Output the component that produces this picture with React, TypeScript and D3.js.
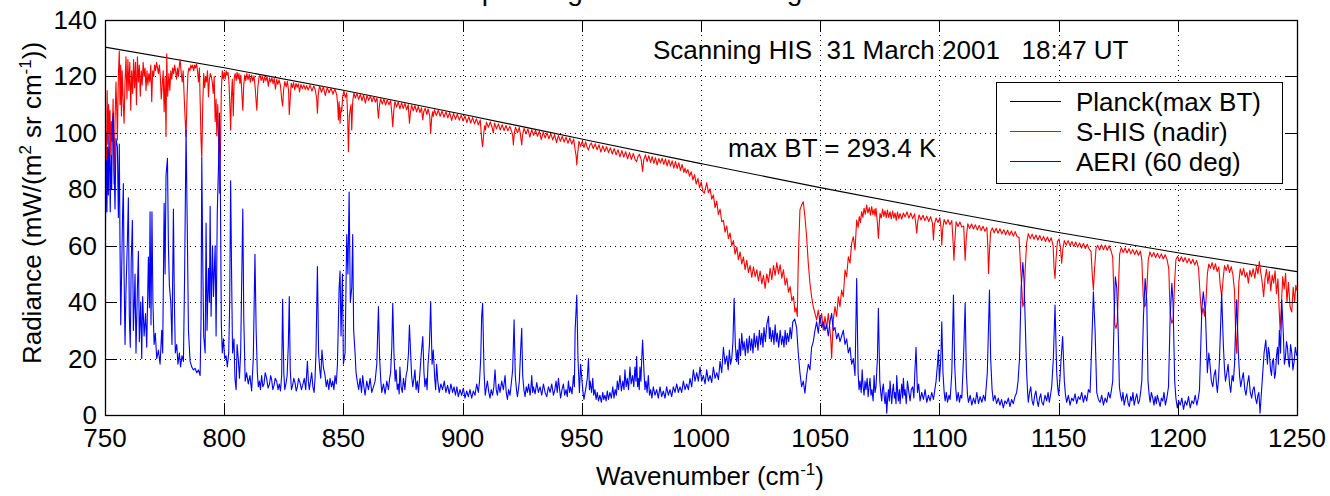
import React from "react";
import * as d3 from "d3";

const xTicks = [750, 800, 850, 900, 950, 1000, 1050, 1100, 1150, 1200, 1250];
const yTicks = [0, 20, 40, 60, 80, 100, 120, 140];

const planck: [number, number][] = [
  [750, 130.4], [800, 123.1], [850, 115.1], [900, 106.6], [950, 97.8], [1000, 89.1],
  [1050, 80.6], [1100, 72.5], [1150, 64.7], [1200, 57.5], [1250, 50.8],
];

const shis: [number, number][] = [
  [750,58],[750.3,100],[750.6,88],[750.9,115],[751.2,96],[751.5,110],[751.8,100],[752.1,108],[752.4,92],[752.7,104],
  [753,97],[753.4,112],[753.8,82],[754.2,104],[754.6,118],[755,106],[755.2,97.5],[755.6,120],[756,129],[756.3,110],
  [756.6,124],[756.9,106],[757.2,122],[757.6,112],[758,103.4],[758.4,118],[758.8,127],[759.2,112],[759.6,126],[760,115],
  [760.4,125],[760.8,108],[761.2,122],[761.6,114],[762,126],[762.4,116],[762.8,125],[763.2,110],[763.6,127],[764,118],
  [764.4,124],[764.8,113],[765.2,122],[765.6,117],[766,125],[766.4,120],[766.8,123],[767.2,115],[767.6,122],[768,117],
  [768.4,121],[768.8,118],[769.2,124],[769.6,111],[770,122],[770.4,120],[770.8,124],[771.2,122],[771.6,125],[772,123],
  [772.4,121],[772.8,124],[773.2,120],[773.6,112],[774,117],[774.4,122],[774.8,107.5],[775.2,120],[775.6,98.7],[775.9,128],
  [776.3,113],[776.8,121],[777.2,115],[777.6,122],[778,119],[778.4,123],[778.8,121],[779.2,124],[779.6,122],[780,119],
  [780.4,123],[780.8,120],[781.2,124],[781.5,126],[782,121],[782.4,118],[782.8,122],[783.2,113],[783.6,105],[784,98.7],
  [784.4,112],[784.8,121],[785.2,123],[785.6,122],[786,124],[786.4,123],[786.8,124],[787.2,122],[787.6,124],[788,123],
  [788.4,124.5],[788.8,122],[789.2,118],[789.6,123],[790,108],[790.3,97],[790.6,91],[791,110],[791.4,121],[791.8,116],
  [792.2,120],[792.6,118],[793,122],[793.4,112.8],[793.8,119],[794.2,121],[794.6,120],[795,118],[795.4,114],[795.8,120],
  [796.2,104],[796.6,112],[796.9,99],[797.3,110],[797.7,95],[798,78.6],[798.4,92],[798.8,115],[799.2,122],[799.6,119],
  [800,121.5],[800.4,119],[800.8,122],[801.2,120.5],[801.6,121.5],[802,118],[802.4,109],[802.7,101],[803,112],[803.4,119],
  [803.8,106],[804.2,119.5],[804.6,121],[805,118.5],[805.4,121.5],[805.8,119],[806.2,121],[806.6,117.5],[807,120.5],[807.4,114],
  [807.8,108],[808.2,117],[808.6,120.5],[809,118.5],[809.5,121],[810,118.8],[810.5,120.8],[811,118],[811.5,120.5],[812,118.4],
  [812.5,120.2],[813,116],[813.4,111],[813.7,108],[814.1,116],[814.6,119.8],[815,120.4],[815.5,118.6],[816,120.2],[816.5,117.8],
  [817,119.9],[817.5,118.4],[818,120],[818.5,116.5],[819,119.5],[819.5,118],[820,119.6],[820.5,117.4],[821,119.3],[821.5,115.5],
  [822,119],[822.5,117.2],[823,118.8],[823.6,116.8],[824.1,112],[824.5,109.5],[824.9,115],[825.4,118.2],[826,116.3],[826.5,118.3],
  [827,115],[827.3,106.5],[827.7,112],[828.1,117.6],[828.6,116],[829.1,117.8],[829.6,115.2],[830.1,117.5],[830.6,116.1],[831.1,117.4],
  [831.6,114.5],[832.2,117.2],[832.8,115.7],[833.4,117],[834,115.4],[834.6,116.8],
  [835.2,115.2],[836,116.9],[836.8,114.8],[837.6,116.6],[838.3,114.9],[838.8,112],[839.1,107],[839.5,114],[840,116.7],[840.8,114.4],
  [841.6,116.4],[842.4,113.2],[843.2,116.1],[844,114.2],[844.8,115.9],[845.6,113.7],[846.4,115.6],[847.2,113.5],[847.6,110],[847.9,104.6],
  [848.2,111],[848.6,103.4],[849,109],[849.3,107.5],[849.7,113],[850.2,114.8],[850.8,112.5],[851.4,114.2],[851.8,105],[852.1,93.3],
  [852.5,106],[852.8,108],[853.2,110],[853.5,101],[853.9,111],[854.4,114.2],[855,112.3],[855.7,114],[856.4,111.8],[857.1,113.7],
  [857.8,111.4],[858.5,113.5],[859.2,110.5],[859.9,113.3],[860.6,111.5],[861.3,113.1],[862,111],[862.7,112.9],[863.4,110.9],[864.1,112.5],
  [864.4,108],[864.7,105.2],[865.1,109.5],[865.6,112.2],[866.3,110.2],[867,112],[867.7,109.8],[868.4,111.8],[869.1,109.9],[869.8,111.5],
  [870.3,107],[870.7,102.2],[871.1,107.5],[871.6,111.1],[872.3,109.1],[873,111],[873.7,108.5],[874.4,110.7],[875.1,108.6],[875.8,110.5],
  [876.5,108.2],[877.2,110],[877.5,106],[877.7,103.4],[878.1,107],[878.6,109.9],[879.3,107.8],[880,109.7],[880.7,107.4],[881.4,109.4],
  [882.1,107.2],[882.8,108.9],[883.1,106],[883.3,104.6],[883.7,107.5],[884.3,108.7],[885,106.5],[885.5,108.5],[886.2,106],[886.6,99.8],
  [887,105],[887.4,107.5],[887.7,105.8],[888.2,108.2],[889,106.1],[889.8,108],[890.6,105.9],[891.4,107.8],[892.2,105.5],[893,107.5],
  [893.8,105.3],[894.6,107.2],[895.4,104.4],[896.2,106.9],[897,104.8],[897.8,106.6],[898.6,104.5],[899.4,106.3],[900.2,104.2],[901,106],
  [901.8,103.6],[902.6,105.7],[903.4,103.5],[904.2,105.4],[905,103.2],[905.8,105],[906.6,102.8],[907.4,104.6],[907.8,100],[908.1,97],
  [908.4,95.1],[908.8,99],[909.2,102.5],[909.6,101],[910,103.8],[910.8,102],[911.6,103.9],[912.4,101.8],[912.9,100],[913.4,103.5],
  [914.2,101.4],[915,103.2],[915.8,101],[916.6,102.9],[917.4,100.8],
  [918.2,102.6],[919,100.7],[919.8,102.3],[920.6,100.4],[921,99],[921.3,95.7],[921.7,100],[922.2,102],[923,100],[923.8,101.9],
  [924.3,99],[924.8,95.7],[925.2,99.5],[925.8,101.6],[926.6,99.6],[927.4,101.4],[928.2,98.5],[929,101.1],[929.8,99.1],[930.6,100.9],
  [931.4,98.8],[932.2,100.6],[933,97.6],[933.8,100.3],[934.6,98.2],[935.4,100],[936.2,97.9],[937,99.7],[937.8,97.5],[938.6,99.4],
  [939.4,96.5],[940.2,99.1],[941,97],[941.8,98.8],[942.6,96.7],[943.4,98.5],[944.2,96.3],[945,98.2],[945.8,96],[946.6,97.8],
  [947.2,94],[947.6,92],[947.9,88.6],[948.3,93],[948.8,97],[949.5,95.2],[950.2,97.1],[950.9,94.8],[951.6,96.8],[952.2,95],
  [952.8,93.9],[953.3,95.5],[954,96.4],[954.8,94.4],[955.6,96.1],[956.4,94],[957.2,95.8],[958,93.2],[958.8,95.4],[959.6,93.4],
  [960.4,95.1],[961.2,93],[962,94.7],[962.8,92.5],[963.6,94.4],[964.4,92.2],[965.2,94],[966,91.5],[966.8,93.7],[967.6,91.4],
  [968.4,93.3],[969.2,90.8],[970,93],[970.8,90.6],[971.6,92.7],[972.4,90.4],[973,89.8],[973.5,91.5],[974.2,92.4],[974.9,90.5],
  [975.5,86.3],[976,90.5],[976.7,92.2],[977.4,89.8],[978.1,91.9],[978.8,89.5],[979.5,91.6],[980.2,89.2],[980.9,91.2],[981.6,88.6],
  [982.3,90.9],[983,89.3],[983.7,91],[984.4,88.8],[985.1,90.8],[985.8,88.3],[986.5,90.4],[987.2,88.2],[987.9,90.1],[988.6,87.5],
  [989.3,89.8],[990,87.4],[990.7,89.4],[991.4,86.7],[992.1,88.8],[992.8,86],[993.3,87.5],[993.8,85.8],[994.5,87],[995.2,84.6],
  [995.9,86.2],[996.6,83.3],[997.3,85.2],[998,81.8],[998.7,83.9],[999.4,80.6],[1000.1,82.6],[1000.8,79.2],[1001.4,78.6],
  [1002.4,82.4],[1003.1,78.8],[1003.8,80.2],[1004.5,76.5],[1005.2,78],[1005.9,73.5],[1006.6,75.8],[1007.3,71],[1008,73],[1008.7,68.5],
  [1009.4,69],[1010.1,64.8],[1010.8,67],[1011.5,62.5],[1012.2,64.5],[1012.9,60],[1013.6,61.8],[1014.3,57],[1015,59.5],[1015.7,55],
  [1016.4,57.8],[1017.1,53.5],[1017.8,56],[1018.5,51.5],[1019.2,54.8],[1019.9,50.5],[1020.6,53],[1021.3,48.8],[1022,52.5],[1022.7,49],
  [1023.4,51.5],[1024.1,47.5],[1024.8,51],[1025.5,46.5],[1026.2,49.5],[1026.9,44.9],[1027.6,50],[1028.3,47],[1029,52],[1029.7,48],
  [1030.4,53],[1031.1,49.5],[1031.8,54],[1032.5,50],[1033.2,53.2],[1033.9,48.5],[1034.6,51.5],[1035.3,46],[1036,48.5],[1036.7,43.5],
  [1037.4,45.5],[1038.1,40.5],[1038.8,42],[1039.4,36.5],[1039.9,38],[1040.4,34.9],[1040.7,50],[1041,60],[1041.5,72.7],[1042.2,74.4],
  [1042.9,75.6],[1043.6,70.3],[1044.3,63.2],[1045,53.8],[1045.7,46.7],[1046.4,41.9],[1047.1,38.4],[1047.8,36],[1048.5,33.7],[1049.2,37.2],
  [1049.9,32.5],[1050.6,36],[1051.3,30.1],[1052,34.9],[1052.7,30.7],[1053.4,36],[1054.1,30.1],[1054.5,26],[1054.8,20.1],[1055.2,28],
  [1055.5,33.7],[1056.2,38.4],[1056.9,34.9],[1057.6,41.9],[1058.3,38.4],[1059,44.3],[1059.7,41.9],[1060.4,51.4],[1061.1,49],[1061.8,56.1],
  [1062.5,53.8],[1063.2,60.9],[1063.9,63.2],[1064.6,58.5],[1065.3,69.1],[1065.9,66.5],[1066.4,70.3],[1066.9,68.2],[1067.4,72.1],[1067.9,70],
  [1068.4,73.3],[1068.9,71.2],[1069.5,74.4],[1070,71.6],[1070.6,73.5],[1071.1,70.8],[1071.6,73.9],[1072.1,71],[1072.6,73],[1073,70.5],
  [1073.4,73.3],[1074,68],[1074.4,62.6],[1074.8,68],[1075.1,71.5],[1075.6,69.8],[1076.2,73],[1076.7,70.4],[1077.2,72.4],[1077.7,69.9],
  [1078.2,72.6],[1078.7,70],[1079.3,72],[1079.8,69.5],[1080.4,72.3],[1080.9,69.8],[1081.4,71.6],[1081.9,69],[1082.4,71.9],[1083,69.6],
  [1083.5,71.4],[1084.2,69.4],[1084.9,71.6],
  [1085.6,70.2],[1086.4,72],[1087.2,69.8],[1088,71.6],[1088.8,69.6],[1089.6,71.3],[1090.2,67],[1090.5,64.4],[1090.9,68.5],[1091.5,70.9],
  [1092.3,69.1],[1093.1,70.8],[1093.9,68.9],[1094.7,70.5],[1095.5,68.6],[1096.3,70.3],[1097.1,68],[1097.5,62],[1097.9,67.5],[1098.6,69.8],
  [1099.4,68.2],[1100.2,69.9],[1100.7,66],[1101,60.3],[1101.4,66],[1102,69.3],[1102.8,67.6],[1103.6,69.2],[1104.4,67.4],[1105.2,68.9],
  [1105.7,62],[1106.1,54.9],[1106.5,62],[1107,68.5],[1107.8,66.8],[1108.6,68.4],[1109.4,66.6],[1110.2,67],[1110.8,54.9],[1111.3,63],
  [1111.9,67.8],[1112.7,66.1],[1113.5,67.7],[1114.3,65.9],[1115.1,67.4],[1115.9,65.6],[1116.7,67.2],[1117.5,65.4],[1118.3,66.9],[1119.1,65.1],
  [1119.9,66.5],[1120.3,60],[1120.6,50.2],[1121,58],[1121.5,65],[1122.2,66.3],[1123,64.6],[1123.8,66.2],[1124.6,64.4],[1125.4,66],
  [1126.2,64.2],[1127,65.7],[1127.8,63.9],[1128.6,65.5],[1129.4,63.7],[1130.2,65.2],[1131,63.4],[1131.8,65],[1132.6,63.2],[1133.4,63],
  [1133.9,55],[1134.5,45.5],[1135,38.4],[1135.5,40],[1136,52],[1136.6,61],[1137.3,64.3],[1138.1,62.5],[1138.9,64.1],[1139.7,62.3],
  [1140.5,63.8],[1141.3,62],[1142.1,63.6],[1142.9,61.8],[1143.7,63.3],[1144.5,61.5],[1145.3,63.1],[1146.1,61.3],[1146.9,62.8],[1147.7,60],
  [1148.1,52],[1148.5,48.4],[1148.9,55],[1149.5,61.5],[1150.2,62.4],[1150.8,59],[1151.3,53.8],[1151.8,59],[1152.4,61.8],[1153.2,60.2],
  [1154,61.8],[1154.8,60],[1155.6,61.5],[1156.4,59.7],[1157.2,61.3],[1158,59.5],[1158.8,61],[1159.6,59.2],[1160.4,60.8],[1161.2,59],
  [1162,60.5],[1162.8,58.8],[1163.6,58],[1164.1,50],[1164.6,44.3],[1165.1,52],[1165.7,59],[1166.4,60.1],[1167.2,58.5],
  [1168,60.3],[1168.8,58.6],[1169.6,60.2],[1170.4,58.4],[1171.2,60],[1172,58.2],[1172.7,56],[1173.2,42],[1173.6,32],[1174.1,30.7],
  [1174.6,33],[1175.1,45],[1175.6,57],[1176.3,59.3],[1177.1,57.6],[1177.9,59.2],[1178.7,57.4],[1179.5,58.9],[1180.3,57.1],[1181.1,58.7],
  [1181.9,56.9],[1182.7,58.4],[1183.5,56.6],[1184.3,58.1],[1184.9,55],[1185.5,42],[1186,38.4],[1186.5,39],[1187,44],[1187.6,55],
  [1188.3,57.8],[1189.1,56.1],[1189.9,57.6],[1190.7,55.8],[1191.5,57.3],[1192.3,55.6],[1193.1,57.1],[1193.9,55.3],[1194.7,56.8],[1195.5,55],
  [1196.2,52],[1196.8,36],[1197.5,32.5],[1198.1,34],[1198.6,46],[1199.2,55],[1199.9,56.2],[1200.7,54.5],[1201.5,56.1],[1202.3,54.3],
  [1203.1,55.8],[1203.9,53.9],[1204.7,55.5],[1205.5,53.6],[1206.3,55.2],[1207.1,53.2],[1207.9,54.8],[1208.7,52],[1209.4,42],[1210,35.5],
  [1210.6,38],[1211.2,35],[1211.8,40],[1212.4,50],[1213,53.5],[1213.7,52],[1214.4,54],[1215.1,51.5],[1215.8,53.6],[1216.5,50.8],
  [1217.2,52.5],[1217.8,46],[1218.4,42],[1219,48],[1219.6,53],[1220.3,51.2],[1221,53.3],[1221.7,50.5],[1222.4,52.6],[1223.1,49.8],
  [1223.8,44],[1224.3,28],[1224.7,21.9],[1225.1,32],[1225.6,47],[1226.2,51.8],[1226.9,49.5],[1227.6,52],[1228.3,48.8],[1229,50.5],
  [1229.6,46.7],[1230.2,51.3],[1230.9,49],[1231.6,51.8],[1232.3,48.5],[1233,52.8],[1233.6,50],[1234.2,54.4],[1234.8,50.4],[1235.4,47],
  [1236,41.9],[1236.6,48.5],[1237.2,51.6],[1237.8,46.5],[1238.4,50.8],[1239,44],[1239.6,49.6],[1240.2,46.7],[1240.8,51.1],[1241.4,43],
  [1242,48.3],[1242.6,36],[1242.9,30.1],[1243.4,38],[1244,49],[1244.6,44.6],[1245.2,50.2],[1245.8,40],[1246.4,47],[1247.1,38.3],
  [1247.8,36.5],[1248.4,45.3],[1249,40],[1249.5,46],[1250,44],
];

const aeri: [number, number][] = [
  [750,52],[750.3,75],[750.6,90],[750.8,72],[751.1,95],[751.4,78],[751.7,100],[752,86],[752.2,72],[752.5,92],
  [752.8,80],[753.1,103],[753.5,107],[753.8,88],[754.2,73],[754.6,98],[755.2,95],[755.6,70],[756,96],[756.3,60],
  [756.6,32],[757,52],[757.4,72],[757.7,82],[758,50],[758.4,25],[758.8,44],[759.4,62],[759.8,77],[760.2,35],
  [760.6,24],[761,55],[761.5,69],[761.9,30],[762.3,40],[762.6,50],[763,22],[763.6,45],[764,58],[764.4,26],
  [765,40],[765.4,20],[765.8,42],[766.4,28],[767,36],[767.5,24],[768.2,56],[768.6,38],[768.9,72],[769.3,32],
  [769.7,72],[770.1,40],[770.6,25],[771.1,29],[771.7,20],[772.4,23],[773.1,18],[773.8,30],[774.2,22],[774.8,75],
  [775.2,50],[775.6,85],[776.2,91],[776.6,60],[777,46],[777.6,40],[778.1,25],[778.7,73],[779.1,40],[779.5,22],
  [780.1,25],[780.6,18],[781.2,22],[781.7,17],[782.3,21],[782.9,19],[783.4,50],[784,101],[784.6,60],[785,30],
  [785.7,19],[786.4,17],[787.1,16],[787.8,16.5],[788.5,15],[789.2,16],[789.9,14],[790.3,35],[790.6,91],[791,55],
  [791.4,28],[792,22],[792.4,68],[792.8,30],[793.4,52],[793.8,40],[794.1,74],[794.5,35],[795.1,60],[795.5,42],
  [796.2,60],[796.6,28],[797.1,72],[797.6,88],[798,107],[798.4,80],[798.8,32],[799.2,22],[799.7,27],[800.2,20],
  [800.8,21],[801.3,17],[801.9,22],[802.3,40],[802.7,83],[803.1,50],[803.5,22],[804.1,27],[804.5,13],[805,9],
  [805.4,25],[805.9,20],[806.4,13],[806.9,22],[807.3,45],[807.8,73],[808.2,35],[808.8,12],[809.4,15],[810.1,11],
  [810.8,14],[811.5,8.5],[812.2,20],[812.9,57],[813.4,30],[813.9,15],[814.3,10],[814.8,12],[815.2,9],[815.7,14],
  [816.2,10],[816.7,11],[817.2,15],[817.8,13],[818.4,9.5],[819,11],[819.5,14],[819.9,12.5],[820.4,9],[820.9,10.5],
  [821.4,13],[822,12],[822.6,9],[823.1,11],[823.6,8.5],[824.1,14],[824.5,41],[825,15],[825.4,9],[825.9,11],
  [826.4,14],[826.9,25],[827.3,42],[827.7,16],[828.2,9],[828.7,10.5],[829.2,13],[829.7,11.5],[830.2,8.5],[830.7,10],
  [831.2,13],[831.8,11.5],[832.4,9],[832.9,10.5],[833.6,13],[834.2,9],[834.9,19],[835.3,12],[835.7,9],[836.2,12],
  [836.7,15],[837.2,10],[837.7,8],[838.1,13],[838.5,22],[839.1,52.6],[839.6,22],[840.1,16],[840.5,13],[841,23],
  [841.6,17],[842.3,14],[842.8,10],[843.3,12.5],[843.9,9],[844.4,13],[845,10],[845.5,12],[846,9],[846.5,14],
  [847,11],[847.5,18],[848.2,45],[848.6,51],[849,28],[849.6,50],[850,18],[850.7,22],[851.4,64],[851.9,50],
  [852.4,79],[852.9,40],[853.5,45],[853.9,64],[854.3,30],[854.9,22],[855.3,15],
  [855.8,12],[856.4,9],[857,13],[857.6,8],[858.1,14],[858.6,10],[859.1,7],[859.8,12],[860.5,9],[861.2,13],
  [861.9,8],[862.6,10],[863.3,12],[864,18],[864.7,38.4],[865.2,20],[865.7,12],[866.1,8],[866.8,11],[867.5,7.5],
  [868.2,12],[868.9,9],[869.4,13],[869.8,15],[870.3,24],[870.7,39.6],[871.2,22],[871.7,12],[872.1,16],[872.6,9],
  [873,11],[873.4,7.5],[873.7,17],[874.2,10],[874.7,8],[875.2,13],[875.8,9],[876.3,14],[876.8,16],[877.3,22],
  [877.7,31.9],[878.2,22],[878.6,14],[879.1,10],[879.6,13],[880,16],[880.5,9],[881,12],[881.5,8],[882.1,15],
  [882.7,22],[883.3,27.8],[883.8,15],[884.2,10],[884.7,13],[885.1,9],[885.5,18],[886.1,25],[886.6,40.2],[887.2,18],
  [887.7,23],[888.3,13],[888.7,9],[889.1,18],[889.6,12],[890.2,8],[890.9,11],[891.6,9],[892.3,12],[893,8],
  [893.7,10.5],[894.4,7.5],[895.1,11],[895.8,8],[896.4,10],[897,7],[897.6,10],[898.2,6.5],[898.9,9],[899.6,7],
  [900.3,9.5],[901,6],[901.7,8.5],[902.4,6.5],[903.1,9],[903.8,6],[904.5,8.5],[905.2,7],[905.9,11],[906.6,8],
  [907.1,12],[907.6,20],[908,35],[908.4,39.6],[909,15],[909.5,7],[910,10],[910.4,12],[911,8],[911.5,6],
  [912,9],[912.6,7],[913.1,10],[913.6,16],[914.1,9],[914.6,7],[915.1,11],[915.7,8],[916.4,12],[917.1,9],
  [917.8,14],[918.3,8],[918.8,5.5],[919.3,9],[919.9,7],[920.4,11],[921,16],[921.6,33.7],[922.1,14],[922.6,9],
  [923,6.5],[923.4,9],[923.8,12],[924.4,24],[924.8,30.7],[925.2,14],[925.7,9],[926.2,6.5],[926.7,10],[927.2,8],
  [927.7,11],[928.3,7],[928.7,10],[929,14],[929.4,8],[929.7,10],[930.4,7.5],[931.1,11.5],[931.8,8],[932.5,10],
  [933.2,7],[933.9,11],[934.6,8],[935.3,6.5],[936,10],[936.7,8],[937.4,11],[938.1,7],[938.7,9],[939.2,12],
  [939.7,8],[940.2,13],[940.7,9],[941.1,6],[941.7,9],[942.3,11],[942.8,7],[943.4,9],[943.9,6.5],[944.4,12],
  [944.9,8],[945.3,10],[945.9,7.5],[946.5,14],[946.9,10],[947.2,30],[947.9,42.5],[948.4,20],[949,8],[949.5,18],
  [950.1,12],[950.5,8],[950.9,5.5],[951.4,8],[951.8,10],[952.3,13],[952.8,20],[953.2,9],[953.5,12],[954.1,8],
  [954.6,13],[955,7],[955.5,9],[956,5.5],[956.5,8],[957,5],[957.6,7],[958.2,4.5],[958.8,8],[959.2,5.5],
  [959.7,7],[960.2,5],[960.7,8.5],[961.2,5.5],[961.8,8],[962.4,6],[963,10],[963.5,6],[964,9],[964.5,7],
  [964.9,12],[965.4,9],[966,14],[966.6,8.5],[967.2,12],[967.7,9],[968.1,16],[968.6,10],[969.1,13],[969.6,9],
  [970.2,17],[970.7,11],[971.3,14],[971.8,10],[972.3,17],[972.7,12],[973,20.7],[973.4,10],[973.7,13],[974.1,9],
  [974.4,17],[974.8,12],[975.1,19],[975.5,26.6],[976.1,15],[976.5,9],[976.9,12],[977.4,8],[977.9,14],[978.4,7],
  [978.9,9],[979.4,6],[980,10],[980.7,7],[981.4,9],[982.1,6],[982.8,10],[983.5,6.5],[984.2,8.5],[984.9,6],
  [985.6,10],[986.3,7],[987,9],[987.7,6.5],[988.4,10],[989.1,8],[989.8,11],[990.5,8],[991.2,10],[991.9,8],
  [992.6,12],[993.3,9],[994,11],[994.7,9],[995.4,13],[996.1,10],[996.8,16],[997.5,12],[998.2,15],[998.9,12],
  [999.6,17],[1000.3,12],[1001,14],[1001.7,11],[1002.4,16],[1003.1,12],[1003.8,14],[1004.5,11.5],[1005.2,17],[1005.9,13],
  [1006.6,15],[1007.3,12.5],[1008,19],[1008.7,15],[1009.4,24],[1010.1,18],[1010.8,21],[1011.4,16],[1011.9,23],[1012.4,18],
  [1012.9,20],[1013.4,26],[1013.9,41.4],[1014.4,25],[1014.9,19],[1015.3,23],[1015.7,18],[1016.1,27],[1016.6,21],[1017.1,29],
  [1017.6,23],[1018.1,26],[1018.6,21],[1019.2,27],[1019.7,22],[1020.3,28],[1020.8,23],[1021.3,27],[1021.8,22],[1022.3,29],
  [1022.8,24],[1023.4,28],[1023.9,23],[1024.5,30],[1025,25],[1025.5,29],[1026,24],[1026.4,31],[1027,26],[1027.6,32],
  [1028.3,35],[1028.7,27],[1029,31],[1029.5,26],[1030.1,30],[1030.6,25],[1031.1,32],[1031.6,26],[1032,29],[1032.6,24],
  [1033.2,30],[1033.8,25],[1034.3,28],[1034.8,24],[1035.3,30],[1035.8,25],[1036.2,29],[1036.8,26],[1037.4,31],[1037.9,27],
  [1038.5,33],[1039.3,34],[1040.1,31],[1040.8,22],[1041.5,15],[1042.2,10],[1042.9,12],[1043.6,7.7],[1044.3,14],[1045,18],
  [1045.7,16],[1046.4,24],[1047.1,26],[1047.8,30],[1048.5,33],[1049.2,29],[1049.9,35],[1050.6,31],[1051.3,33],[1052,30],
  [1052.7,32],[1053.4,28],[1054.1,33],[1054.8,36],[1055.5,30],[1056.2,31],[1056.9,27],[1057.6,29],[1058.3,26],[1059,28],
  [1059.7,30],[1060.4,25],[1061.1,27],[1061.8,22],[1062.5,24],[1063.2,18],[1063.9,20],[1064.6,14],[1065.3,48.4],[1065.9,15],
  [1066.3,9],[1066.7,12],[1067.2,8],[1067.6,16],[1068,10],[1068.4,7],[1068.8,12],[1069.2,9],[1069.7,13],[1070.1,6.5],
  [1070.5,10],[1070.9,13],[1071.3,7],[1071.7,9],[1072.2,5],[1072.6,14],[1073,8],[1073.4,10],[1074,20],[1074.4,37.8],
  [1075,12],[1075.4,8],[1075.8,5],[1076.1,9],[1076.5,11],[1076.9,6],[1077.2,4],[1077.6,8],[1077.9,0.6],[1078.3,6],
  [1078.6,9],[1079,5],[1079.3,12],[1079.7,7],[1080,4],[1080.4,9],[1080.7,11],[1081.1,6],[1081.4,8],[1081.8,4],
  [1082.1,14],[1082.5,8],[1082.8,5],[1083.2,9],[1083.5,4],[1083.9,8],[1084.2,11],[1084.6,6],[1084.9,13],[1085.3,7],
  [1085.6,9],[1086.1,4],[1086.6,12],[1087.2,8],[1087.7,5],[1088.2,9],[1088.8,10],[1089.3,6],[1089.7,15],[1090.2,24],
  [1090.8,8],[1091.3,11],[1091.9,5],[1092.6,8],[1093.3,5.5],[1094,9],[1094.7,4.5],[1095.4,7],[1096.1,5],[1096.8,8],
  [1097.5,5.5],[1098.1,9],[1098.6,12],[1099.2,18],[1099.6,23],[1100,12],[1100.6,20],[1101,33],[1101.5,15],[1102,8],
  [1102.4,5],[1102.9,8],[1103.4,4.5],[1104,7],[1104.5,5.5],[1105.2,15],[1105.9,42.5],[1106.4,18],[1106.9,9],[1107.3,5],
  [1107.9,8],[1108.4,4.5],[1108.9,7],[1109.4,6],[1110.1,20],[1110.8,39.6],[1111.3,15],[1111.8,7],[1112.2,4.5],[1112.9,7],
  [1113.6,3.5],[1114.3,6],[1115,4],[1115.7,8],[1116.4,4],[1117.1,6.5],[1117.8,4.5],[1118.5,7],[1119.2,5],[1120.1,15],
  [1121,44.3],[1121.5,20],[1122.1,9],[1122.6,5],[1123.3,7],[1124,4],[1124.7,6],[1125.4,3.5],[1126.1,5.5],[1126.8,2.5],
  [1127.5,5],[1128.2,4],[1128.9,6],[1129.6,3],[1130.3,5.5],[1131,4],[1131.7,6.5],[1132.4,8],[1133,12],[1133.6,20],
  [1134.3,45],[1135,54],[1135.5,48],[1136.1,30],[1136.6,15],[1137,8],[1137.3,4.5],[1137.8,8],[1138.3,10],[1138.9,5],
  [1139.4,3.5],[1140,7],[1140.5,8.5],[1141,5],[1141.5,3],[1142,6],[1142.5,7.5],[1143,4.5],[1143.6,3.5],[1144.3,7],
  [1145,5],[1145.6,8],[1146.1,4.5],[1146.6,7],[1147.1,10],[1147.8,20],[1148.5,39],[1149.2,15],[1149.6,10],[1150,7],
  [1150.5,12],[1150.9,18],[1151.7,27.8],[1152.4,12],[1152.9,7],[1153.4,4.5],[1154.1,7],[1154.8,3.5],[1155.5,6],[1156.2,5],
  [1156.9,7.5],[1157.6,4],[1158.3,6.5],[1159,5.5],[1159.7,8],[1160.4,4.5],[1161.1,7],[1161.8,5],[1162.5,9],[1163.2,8],
  [1163.9,25],[1164.6,43.7],[1165.3,30],[1166,8],[1166.7,5.5],[1167.4,4.5],[1168.1,7],[1168.8,3.5],[1169.5,6],[1170.2,4.5],
  [1170.9,8],[1171.6,6],[1172.2,9],[1172.7,12],[1173.3,35],[1173.8,49],[1174.4,45],[1175,30],[1175.5,10],[1176,7],
  [1176.5,5],[1177,8],[1177.5,3.5],[1178.1,6],[1178.6,7.5],[1179.2,4],[1179.7,3],[1180.2,6.5],[1180.7,5],[1181.2,8],
  [1181.7,3.5],[1182.3,6],[1182.8,7.5],[1183.4,4],[1183.9,5],[1184.4,8],[1184.9,12],[1185.6,35],[1186.3,48.4],[1187,40],
  [1187.5,12],[1188,7],[1188.4,4.5],[1188.9,8],[1189.5,6],[1190,3.5],[1190.5,6.5],[1191,4],[1191.4,7],[1192,5],
  [1192.6,3],[1193.1,6],[1193.7,5],[1194.2,8],[1194.8,3.5],[1195.4,6],[1196.1,10],[1196.8,35],[1197.5,46.7],[1198,40],
  [1198.7,12],[1199.2,6],[1199.8,2.5],[1200.4,5],[1201,3.5],[1201.7,6],[1202.4,2],[1203.1,5],[1203.8,3.5],[1204.5,6.5],
  [1205.2,2.5],[1205.9,5],[1206.6,4],[1207.3,7],[1208,3.5],[1208.6,6],[1209.1,9],[1210.1,38],[1210.7,43.7],[1211.6,36],
  [1212.4,15],[1213,22],[1213.5,18],[1214.1,12],[1214.7,10],[1215.2,14],[1215.8,16],[1216.2,11],[1216.6,8],[1217.1,13],
  [1217.5,20],[1218.4,43],[1219.1,25],[1219.6,16],[1220,12],[1220.6,15],[1221.1,18],[1221.7,11],[1222.2,8],[1222.8,14],
  [1223.3,12],[1223.8,18],[1224.2,30],[1224.7,40.8],[1225.4,22],[1225.9,14],[1226.4,10],[1227,13],[1227.5,15],[1228.1,9],
  [1228.6,7],[1229.2,11],[1229.8,14],[1230.4,8],[1231,6],[1231.5,9],[1232,10],[1232.6,6],[1233.1,4],[1233.6,7],
  [1234,8],[1234.5,0.6],[1235,7],[1235.4,12],[1235.8,17],[1236.2,22],[1236.9,26.6],[1237.6,18],[1238,24],[1238.4,22],
  [1238.9,16],[1239.3,14],[1239.7,19],[1240.1,20],[1240.6,13],[1241,15],[1241.4,21],[1241.8,24],[1242.2,18],[1242.6,30],
  [1243.1,22],[1243.6,40.8],[1244.3,28],[1244.7,18],[1245.1,20],[1245.6,26],[1246,24],[1246.4,19],[1246.8,17],[1247.3,25],
  [1247.8,22],[1248.3,16],[1248.8,19],[1249.3,24],[1249.9,21],
];

const W = 1330;
const H = 496;
const left = 105, right = 1297, top = 20, bottom = 415;
const FONT = "'Liberation Sans', Arial, Helvetica, sans-serif";

export default function App() {
  const x = d3.scaleLinear().domain([750, 1250]).range([left, right]);
  const y = d3.scaleLinear().domain([0, 140]).range([bottom, top]);
  const line = d3.line<[number, number]>().x((d) => x(d[0])).y((d) => y(d[1]));
  const smooth = d3.line<[number, number]>().x((d) => x(d[0])).y((d) => y(d[1])).curve(d3.curveMonotoneX);
  const tick = 12;

  return (
    <svg width={W} height={H} style={{ position: "absolute", left: 0, top: 0, background: "#fff" }} fontFamily={FONT}>
      <rect x={0} y={0} width={W} height={H} fill="#fff" />
      <defs>
        <clipPath id="plot">
          <rect x={left} y={top} width={right - left} height={bottom - top} />
        </clipPath>
      </defs>
      {/* title, cut off by the top edge of the picture */}
      <text x={695} y={0} textAnchor="middle" fontSize={28} fill="#000">Upwelling and Downwelling Radiance</text>

      {/* grid */}
      <g stroke="#000" strokeWidth={1} strokeDasharray="1,4" shapeRendering="crispEdges">
        {xTicks.slice(1, -1).map((t) => (
          <line key={"gx" + t} x1={Math.round(x(t)) + 0.5} x2={Math.round(x(t)) + 0.5} y1={top} y2={bottom} />
        ))}
        {yTicks.slice(1, -1).map((t) => (
          <line key={"gy" + t} x1={left} x2={right} y1={Math.round(y(t)) + 0.5} y2={Math.round(y(t)) + 0.5} />
        ))}
      </g>

      {/* data */}
      <g clipPath="url(#plot)" fill="none" strokeWidth={1.1} strokeLinejoin="round">
        <path d={smooth(planck) || ""} stroke="#000" />
        <path d={line(shis) || ""} stroke="#ff0000" />
        <path d={line(aeri) || ""} stroke="#0000ff" />
      </g>

      {/* ticks */}
      <g stroke="#000" strokeWidth={1} shapeRendering="crispEdges">
        {xTicks.map((t) => (
          <g key={"tx" + t}>
            <line x1={Math.round(x(t)) + 0.5} x2={Math.round(x(t)) + 0.5} y1={bottom} y2={bottom - tick} />
            <line x1={Math.round(x(t)) + 0.5} x2={Math.round(x(t)) + 0.5} y1={top} y2={top + tick} />
          </g>
        ))}
        {yTicks.map((t) => (
          <g key={"ty" + t}>
            <line x1={left} x2={left + tick} y1={Math.round(y(t)) + 0.5} y2={Math.round(y(t)) + 0.5} />
            <line x1={right} x2={right - tick} y1={Math.round(y(t)) + 0.5} y2={Math.round(y(t)) + 0.5} />
          </g>
        ))}
      </g>
      <rect x={left + 0.5} y={top + 0.5} width={right - left} height={bottom - top} fill="none" stroke="#000" strokeWidth={1.3} />

      {/* tick labels */}
      <g fontSize={26} fill="#000">
        {xTicks.map((t) => (
          <text key={"lx" + t} x={x(t)} y={447} textAnchor="middle">{t}</text>
        ))}
        {yTicks.map((t) => (
          <text key={"ly" + t} x={97} y={y(t) + 9} textAnchor="end">{t}</text>
        ))}
      </g>

      {/* axis labels */}
      <text x={710} y={485} textAnchor="middle" fontSize={26} fill="#000">
        Wavenumber (cm<tspan dy={-10} fontSize={17}>-1</tspan><tspan dy={10}>)</tspan>
      </text>
      <text transform="translate(41,203) rotate(-90)" textAnchor="middle" fontSize={26} fill="#000">
        Radiance (mW/(m<tspan dy={-10} fontSize={17}>2</tspan><tspan dy={10}> sr cm</tspan><tspan dy={-10} fontSize={17}>-1</tspan><tspan dy={10}>))</tspan>
      </text>

      {/* annotations */}
      <text x={653} y={59} fontSize={26} fill="#000" style={{ whiteSpace: "pre" }}>{"Scanning HIS  31 March 2001   18:47 UT"}</text>
      <text x={728} y={157} fontSize={26} fill="#000">max BT = 293.4 K</text>

      {/* legend */}
      <rect x={996.5} y={82.5} width={286} height={101} fill="#fff" stroke="#000" strokeWidth={1} />
      {[
        { label: "Planck(max BT)", color: "#000", cy: 101.5 },
        { label: "S-HIS (nadir)", color: "#ff0000", cy: 131.5 },
        { label: "AERI (60 deg)", color: "#0000ff", cy: 161.5 },
      ].map((e) => (
        <g key={e.label}>
          <line x1={1010} x2={1061} y1={e.cy} y2={e.cy} stroke={e.color} strokeWidth={1} />
          <text x={1076} y={e.cy + 9} fontSize={26} fill="#000">{e.label}</text>
        </g>
      ))}
    </svg>
  );
}
